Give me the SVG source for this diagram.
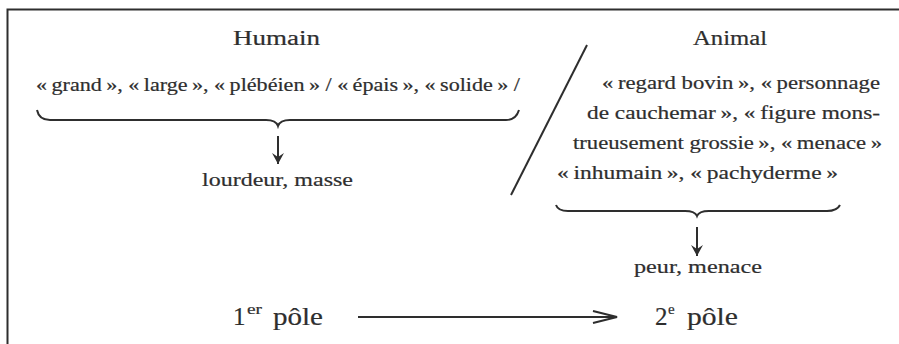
<svg xmlns="http://www.w3.org/2000/svg" width="899" height="344" viewBox="0 0 899 344">
<style>
text{font-family:"Liberation Serif","DejaVu Serif",serif;fill:#2e2e2e;stroke:#2e2e2e;stroke-width:0.2}
.h{font-size:20px}
.b{font-size:18px}
.p{font-size:25px}
.s{font-size:15px}
.ln{stroke:#2e2e2e;fill:none;stroke-width:2}
</style>
<defs>
<marker id="ah" viewBox="0 0 12 12" refX="11" refY="6" markerWidth="12" markerHeight="12" markerUnits="userSpaceOnUse" orient="auto">
<path d="M0,0 L11,6 L0,12 L4,6 Z" fill="#2e2e2e"/>
</marker>
<marker id="oh" viewBox="0 0 26 14" refX="25" refY="7" markerWidth="26" markerHeight="14" markerUnits="userSpaceOnUse" orient="auto">
<path d="M1,1 L25,7 L1,13" fill="none" stroke="#2e2e2e" stroke-width="2"/>
</marker>
</defs>
<rect width="899" height="344" fill="#fff"/>
<g id="frame">
<path d="M7.5,344 L7.5,9.5 L899,9.5" class="ln" stroke-width="2.5"/>
</g>
<g id="humain">
<text class="h" x="233" y="45" textLength="87" lengthAdjust="spacingAndGlyphs">Humain</text>
<text class="b" x="36" y="91" textLength="484" lengthAdjust="spacingAndGlyphs">«&#8239;grand&#8239;», «&#8239;large&#8239;», «&#8239;plébéien&#8239;» / «&#8239;épais&#8239;», «&#8239;solide&#8239;» /</text>
<path class="ln" d="M37,110 Q39,120 50,120 L266,120 Q276,120 278,126 Q280,120 290,120 L506,120 Q516,120 519,110"/>
</g>
<g id="lourdeur">
<text class="b" x="202" y="186" textLength="151" lengthAdjust="spacingAndGlyphs">lourdeur, masse</text>
</g>
<g id="animal">
<text class="h" x="693" y="45" textLength="74" lengthAdjust="spacingAndGlyphs">Animal</text>
<text class="b" x="602" y="89" textLength="278" lengthAdjust="spacingAndGlyphs">«&#8239;regard bovin&#8239;», «&#8239;personnage</text>
<text class="b" x="587" y="119" textLength="293" lengthAdjust="spacingAndGlyphs">de cauchemar&#8239;», «&#8239;figure mons-</text>
<text class="b" x="573" y="149" textLength="309" lengthAdjust="spacingAndGlyphs">trueusement grossie&#8239;», «&#8239;menace&#8239;»</text>
<text class="b" x="557" y="179" textLength="281" lengthAdjust="spacingAndGlyphs">«&#8239;inhumain&#8239;», «&#8239;pachyderme&#8239;»</text>
<path class="ln" d="M556,205 Q558,211 568,211 L685,211 Q695,211 697,216 Q699,211 709,211 L827,211 Q837,211 840,205"/>
</g>
<g id="peur">
<text class="b" x="634" y="273" textLength="128" lengthAdjust="spacingAndGlyphs">peur, menace</text>
</g>
<g id="pole1">
<text class="p" x="233" y="325">1</text>
<text class="s" x="247" y="314" textLength="15" lengthAdjust="spacingAndGlyphs">er</text>
<text class="p" x="273" y="325" textLength="50" lengthAdjust="spacingAndGlyphs">pôle</text>
</g>
<g id="pole2">
<text class="p" x="655" y="325">2</text>
<text class="s" x="668" y="314">e</text>
<text class="p" x="687" y="325" textLength="51" lengthAdjust="spacingAndGlyphs">pôle</text>
</g>
<g id="connectors">
<line class="ln" x1="587" y1="45" x2="511" y2="195"/>
<line class="ln" x1="278" y1="136" x2="278" y2="164" marker-end="url(#ah)"/>
<line class="ln" x1="697" y1="227" x2="697" y2="256" marker-end="url(#ah)"/>
<line class="ln" x1="358" y1="317" x2="617" y2="317" marker-end="url(#oh)"/>
</g>
</svg>
